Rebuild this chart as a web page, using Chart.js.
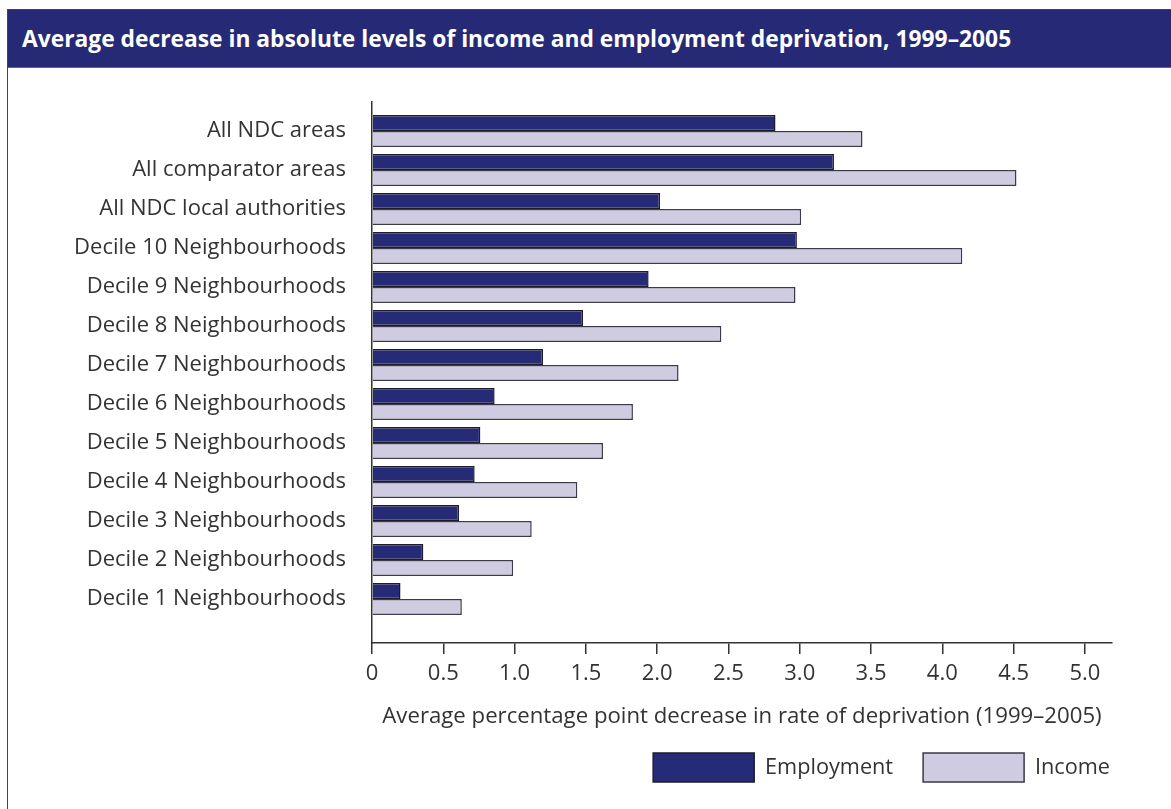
<!DOCTYPE html>
<html>
<head>
<meta charset="utf-8">
<script src="https://cdn.jsdelivr.net/npm/chart.js@4/dist/chart.umd.min.js"></script>
<style>
  body { margin: 0; overflow: hidden; background: #fff; }
  #frame { position: absolute; left: 7px; top: 9px; width: 1200px; height: 850px;
           border-left: 1.5px solid #444; border-top: 1.5px solid #444; }
  #head { height: 57px; background: #262a76; border-bottom: 1px solid #666; color: #fff;
          font: bold 22.8px 'Open Sans', sans-serif; line-height: 57px; padding-left: 14px; }
  #c { position: absolute; left: 0; top: 0; }
</style>
</head>
<body>
<div id="frame"><div id="head">Average decrease in absolute levels of income and employment deprivation, 1999–2005</div></div>
<canvas id="c" width="1171" height="809"></canvas>
<script>
const categories = [
  'All NDC areas', 'All comparator areas', 'All NDC local authorities',
  'Decile 10 Neighbourhoods', 'Decile 9 Neighbourhoods', 'Decile 8 Neighbourhoods',
  'Decile 7 Neighbourhoods', 'Decile 6 Neighbourhoods', 'Decile 5 Neighbourhoods',
  'Decile 4 Neighbourhoods', 'Decile 3 Neighbourhoods', 'Decile 2 Neighbourhoods',
  'Decile 1 Neighbourhoods'
];
const employment = [2.83, 3.24, 2.02, 2.98, 1.94, 1.48, 1.20, 0.86, 0.76, 0.72, 0.61, 0.36, 0.20];
const income = [3.44, 4.52, 3.01, 4.14, 2.97, 2.45, 2.15, 1.83, 1.62, 1.44, 1.12, 0.99, 0.63];
const xTicks = [0, 0.5, 1.0, 1.5, 2.0, 2.5, 3.0, 3.5, 4.0, 4.5, 5.0];
const xTitle = 'Average percentage point decrease in rate of deprivation (1999–2005)';

// empty space above first / below last category, in category units
const yPadTop = 0.744;
const yPadBottom = 1.128;

Chart.defaults.font.family = "'Open Sans', sans-serif";
Chart.defaults.color = '#333';

// nudge the legend so it sits right-aligned under the axis like the original
const legendShift = {
  id: 'legendShift',
  afterLayout(chart) {
    const l = chart.legend;
    l.left += 28; l.right += 28;
    l.top -= 7; l.bottom -= 7;
  }
};

new Chart(document.getElementById('c'), {
  type: 'bar',
  data: {
    labels: categories,
    datasets: [{
      label: 'Employment',
      data: employment,
      backgroundColor: '#262b78',
      borderColor: '#1c1c2a',
      borderWidth: 1.5
    }, {
      label: 'Income',
      data: income,
      backgroundColor: '#cfcce2',
      borderColor: '#3a3a48',
      borderWidth: 1.5
    }]
  },
  options: {
    indexAxis: 'y',
    responsive: false,
    animation: false,
    categoryPercentage: 0.82,
    barPercentage: 1,
    layout: { padding: { top: 102, left: 8, right: 59, bottom: 10 } },
    plugins: {
      tooltip: { enabled: false },
      legend: {
        position: 'bottom',
        align: 'end',
        labels: { boxWidth: 101, boxHeight: 29, padding: 30, font: { size: 21.7 }, color: '#333' }
      }
    },
    scales: {
      y: {
        grid: { display: false },
        border: { color: '#333', width: 1.5 },
        ticks: { padding: 18, font: { size: 22 }, color: '#333' },
        afterFit(s) { s.width = 364; },
        afterBuildTicks(s) {
          s._startValue = -yPadTop;
          s._valueRange = categories.length - 1 + yPadTop + yPadBottom;
        }
      },
      x: {
        min: 0,
        max: 5.19,
        grid: { drawOnChartArea: false, tickLength: 11, color: '#333', lineWidth: 1.5 },
        border: { color: '#333', width: 1.5 },
        ticks: {
          padding: 7,
          font: { size: 22 },
          color: '#333',
          callback: v => v === 0 ? '0' : v.toFixed(1)
        },
        afterBuildTicks(s) { s.ticks = xTicks.map(v => ({ value: v })); },
        afterFit(s) { s.height = 87; },
        title: { display: true, text: xTitle, font: { size: 22.2 }, color: '#333', padding: { top: 0, bottom: 0 } }
      }
    }
  },
  plugins: [legendShift]
});
</script>
</body>
</html>
